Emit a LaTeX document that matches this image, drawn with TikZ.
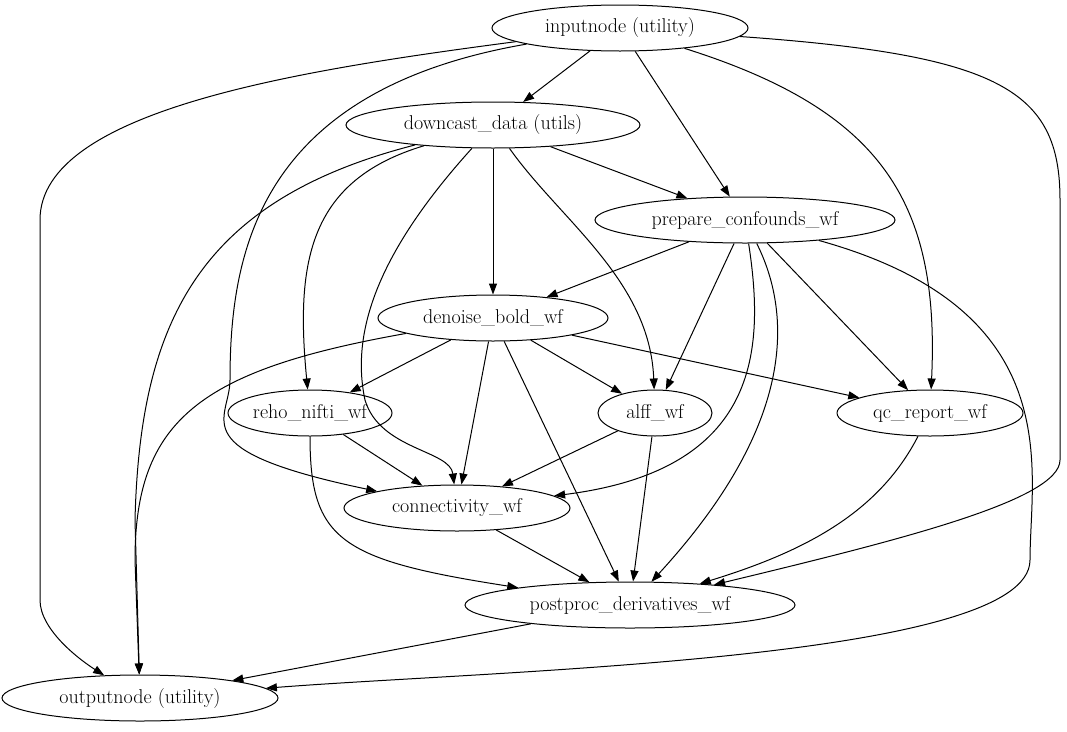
\documentclass[tikz,border=0pt]{standalone}
\usepackage{tikz}
\usetikzlibrary{arrows.meta,shapes.geometric}

\tikzset{
  wf/.style={draw, line width=1pt, ellipse, inner sep=0pt, minimum height=46pt, font=\fontsize{20}{24}\selectfont},
  edge/.style={-{Triangle[length=11pt,width=8pt]}, line width=1pt}
}

\begin{document}
\begin{tikzpicture}[x=1pt,y=-1pt]
    % Frame of the picture
    \useasboundingbox (0,0) rectangle (1067,731);

    % Nodes
    \node[wf, minimum width=256pt] (inputnode) at (620,28) {inputnode (utility)};
    \node[wf, minimum width=294pt] (downcast) at (493,125) {downcast\_data (utils)};
    \node[wf, minimum width=300pt] (confounds) at (745,220) {prepare\_confounds\_wf};
    \node[wf, minimum width=230pt] (denoise) at (493,318) {denoise\_bold\_wf};
    \node[wf, minimum width=164pt] (reho) at (310,413) {reho\_nifti\_wf};
    \node[wf, minimum width=114pt] (alff) at (655,413) {alff\_wf};
    \node[wf, minimum width=186pt] (qcreport) at (930,413) {qc\_report\_wf};
    \node[wf, minimum width=226pt] (connectivity) at (457,508) {connectivity\_wf};
    \node[wf, minimum width=330pt] (postproc) at (630,605) {postproc\_derivatives\_wf};
    \node[wf, minimum width=276pt] (outputnode) at (140,698) {outputnode (utility)};

    % Edges from inputnode
    \draw[edge] (inputnode) -- (downcast);
    \draw[edge] (inputnode) -- (confounds);
    \draw[edge] (inputnode) .. controls (880,110) and (940,200) .. (qcreport);
    \draw[edge] (inputnode) .. controls (1000,55) and (1060,90) .. (1060,200) -- (1060,460) .. controls (1060,500) and (900,540) .. (postproc);
    \draw[edge] (inputnode) .. controls (300,70) and (40,110) .. (40,220) -- (40,600) .. controls (40,630) and (80,660) .. (outputnode);
    \draw[edge] (inputnode) .. controls (260,90) and (230,250) .. (230,380) .. controls (230,420) and (180,450) .. (connectivity);

    % Edges from downcast_data
    \draw[edge] (downcast) -- (confounds);
    \draw[edge] (downcast) -- (denoise);
    \draw[edge] (downcast) .. controls (560,220) and (650,280) .. (alff);
    \draw[edge] (downcast) .. controls (380,250) and (350,330) .. (365,400) .. controls (380,450) and (450,450) .. (connectivity);
    \draw[edge] (downcast) .. controls (310,180) and (295,260) .. (reho);
    \draw[edge] (downcast) .. controls (200,200) and (140,320) .. (135,520) -- (outputnode);

    % Edges from prepare_confounds_wf
    \draw[edge] (confounds) -- (denoise);
    \draw[edge] (confounds) -- (alff);
    \draw[edge] (confounds) -- (qcreport);
    \draw[edge] (confounds) .. controls (765,350) and (760,470) .. (connectivity);
    \draw[edge] (confounds) .. controls (790,310) and (800,420) .. (postproc);
    \draw[edge] (confounds) .. controls (1070,310) and (1030,470) .. (1030,560) .. controls (1030,660) and (500,670) .. (outputnode);

    % Edges from denoise_bold_wf
    \draw[edge] (denoise) -- (reho);
    \draw[edge] (denoise) -- (alff);
    \draw[edge] (denoise) -- (qcreport);
    \draw[edge] (denoise) -- (connectivity);
    \draw[edge] (denoise) -- (postproc);
    \draw[edge] (denoise) .. controls (200,370) and (135,420) .. (135,560) -- (outputnode);

    % Remaining edges
    \draw[edge] (reho) -- (connectivity);
    \draw[edge] (reho) .. controls (310,540) and (340,560) .. (postproc);
    \draw[edge] (alff) -- (connectivity);
    \draw[edge] (alff) -- (postproc);
    \draw[edge] (qcreport) .. controls (880,510) and (810,550) .. (postproc);
    \draw[edge] (connectivity) -- (postproc);
    \draw[edge] (postproc) -- (outputnode);
\end{tikzpicture}
\end{document}
